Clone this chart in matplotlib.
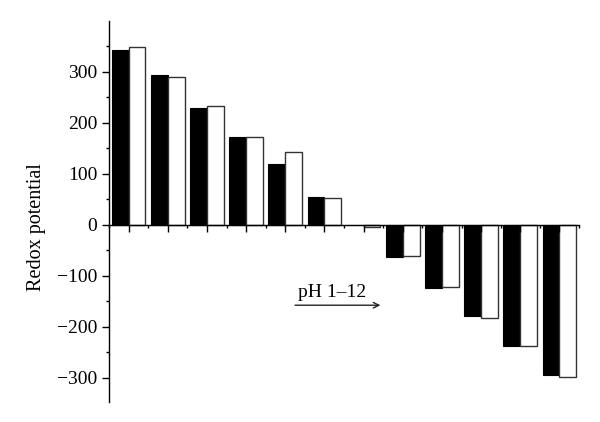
import matplotlib
matplotlib.use('Agg')
import matplotlib.pyplot as plt
import numpy as np
from matplotlib.ticker import MultipleLocator, NullFormatter, FixedLocator

# redox potential at pH 1..12, two series (black / white bars)
ph = np.arange(1, 13)
series_black = [344, 294, 229, 173, 119, 54, -1, -64, -125, -179, -238, -295]
series_white = [348, 291, 233, 172, 142, 53, -5, -62, -122, -184, -239, -299]

plt.rcParams['font.family'] = ['Liberation Serif', 'DejaVu Serif']

fig = plt.figure(figsize=(6, 4.22), dpi=100)
ax = fig.add_axes([109/600, 20/422, (579-109)/600, (401-20)/422])

w = 0.43
ax.bar(ph - w/2, series_black, width=w, color='black', edgecolor='black', linewidth=0.8)
ax.bar(ph + w/2, series_white, width=w, color='white', edgecolor='#333333', linewidth=1.0)

ax.set_xlim(0.5, 12.5)
ax.set_ylim(-348, 400)

ax.spines['top'].set_visible(False)
ax.spines['right'].set_visible(False)
ax.spines['bottom'].set_position(('data', 0))
ax.spines['bottom'].set_linewidth(1.0)
ax.spines['left'].set_linewidth(1.0)

ax.set_xticks(ph)
ax.xaxis.set_minor_locator(MultipleLocator(1, offset=0.5))
ax.xaxis.set_major_formatter(NullFormatter())
ax.tick_params(axis='x', which='major', direction='out', length=4.8, width=1)
ax.tick_params(axis='x', which='minor', direction='out', length=2.4, width=1)

ax.set_yticks([-300, -200, -100, 0, 100, 200, 300])
ax.yaxis.set_minor_locator(FixedLocator([-250, -150, -50, 50, 150, 250, 350]))
ax.tick_params(axis='y', which='major', direction='out', length=4.8, width=1, labelsize=14)
ax.tick_params(axis='y', which='minor', direction='out', length=2.4, width=1)
ax.set_yticklabels(['\u2212300', '\u2212200', '\u2212100', '0', '100', '200', '300'])

ax.set_ylabel('Redox potential', fontsize=14.5)
ax.yaxis.set_label_coords(-0.135, 0.46)

ax.annotate('', xy=(7.5, -158), xytext=(5.18, -158),
            arrowprops=dict(arrowstyle='->', color='#222222', lw=1.0))
ax.text(6.2, -133, 'pH 1\u201312', ha='center', va='center', fontsize=14)

plt.savefig('out.png', dpi=100)
